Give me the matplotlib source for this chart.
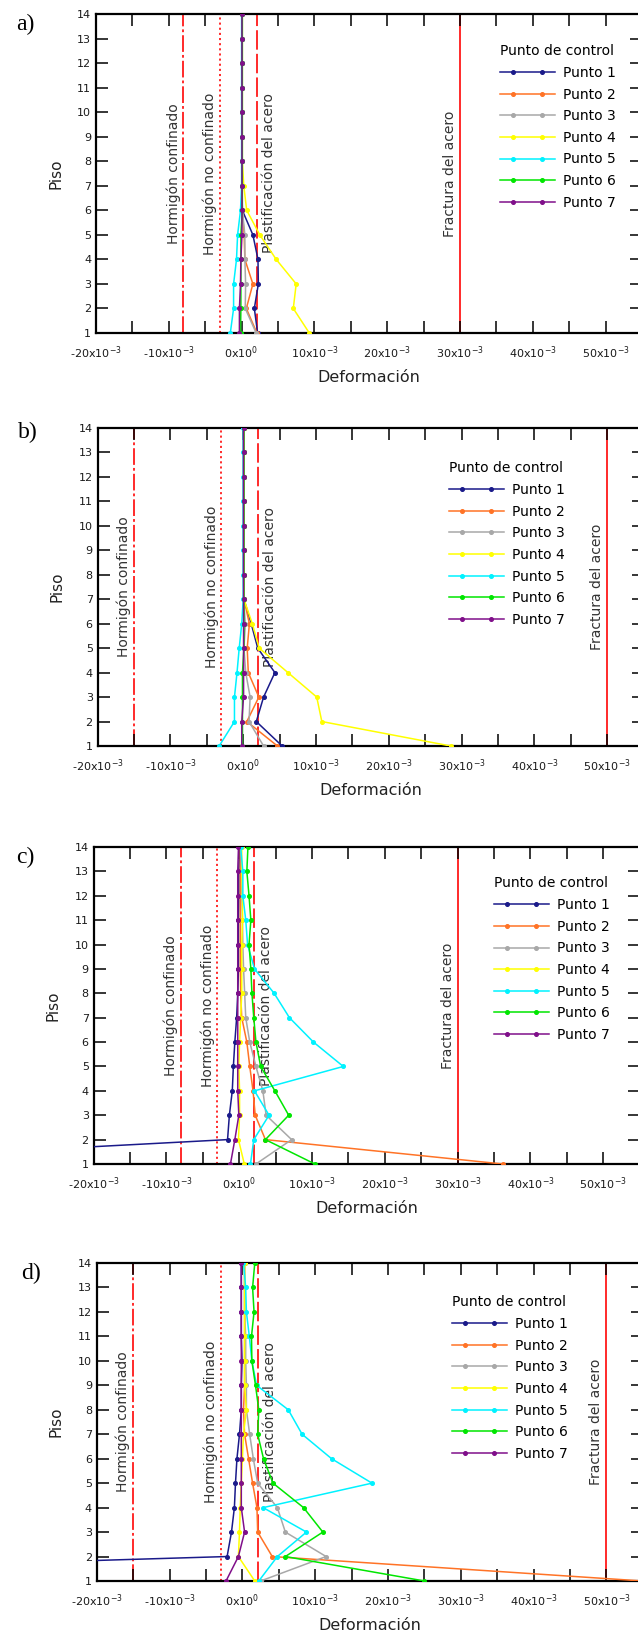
import matplotlib
matplotlib.use('Agg')
import matplotlib.pyplot as plt
from matplotlib.ticker import MultipleLocator, FuncFormatter
from matplotlib.legend_handler import HandlerBase
from matplotlib.lines import Line2D

plt.rcParams['lines.scale_dashes'] = False

# Pisos (eje y)
pisos = [1, 2, 3, 4, 5, 6, 7, 8, 9, 10, 11, 12, 13, 14]

# Deformaciones en unidades de 10^-3, de piso 1 a piso 14
# caso a)
a_p1 = [2.2, 1.75, 2.3, 2.25, 1.55, 0.1, 0.05, 0.05, 0.05, 0.05, 0.05, 0.05, 0.05, 0.05]
a_p2 = [2.1, 0.65, 1.55, 0.45, 0.35, 0.1, 0.05, 0.05, 0.05, 0.05, 0.05, 0.05, 0.05, 0.05]
a_p3 = [2.0, 0.5, 0.55, 0.45, 0.45, 0.1, 0.05, 0.05, 0.05, 0.05, 0.05, 0.05, 0.05, 0.05]
a_p4 = [9.3, 7.1, 7.5, 4.75, 2.5, 0.7, 0.3, 0.1, 0.1, 0.1, 0.1, 0.1, 0.1, 0.1]
a_p5 = [-1.55, -1.1, -1.1, -0.7, -0.55, -0.15, 0.0, 0.0, 0.0, 0.0, 0.0, 0.0, 0.0, 0.0]
a_p6 = [-0.15, -0.1, -0.1, -0.1, -0.1, 0.1, 0.1, 0.1, 0.1, 0.1, 0.1, 0.1, 0.1, 0.1]
a_p7 = [-0.3, -0.3, -0.15, -0.1, 0.05, 0.05, 0.05, 0.05, 0.05, 0.05, 0.05, 0.05, 0.05, 0.05]

# caso b)
b_p1 = [5.35, 1.8, 2.8, 4.35, 2.0, 1.1, 0.1, 0.05, 0.05, 0.05, 0.05, 0.05, 0.05, 0.05]
b_p2 = [4.7, 0.5, 2.15, 0.7, 0.55, 0.85, 0.1, 0.05, 0.05, 0.05, 0.05, 0.05, 0.05, 0.05]
b_p3 = [2.8, 0.8, 0.95, 0.35, 0.1, 0.3, 0.05, 0.05, 0.05, 0.05, 0.05, 0.05, 0.05, 0.05]
b_p4 = [28.5, 10.8, 10.1, 6.15, 2.2, 1.25, 0.1, 0.1, 0.1, 0.1, 0.1, 0.1, 0.1, 0.1]
b_p5 = [-3.3, -1.2, -1.2, -0.85, -0.55, -0.2, 0.0, 0.0, 0.0, 0.0, 0.0, 0.0, 0.0, 0.0]
b_p6 = [-0.1, -0.1, -0.1, -0.1, 0.1, 0.1, 0.1, 0.1, 0.1, 0.1, 0.1, 0.1, 0.1, 0.1]
b_p7 = [-0.2, -0.2, 0.05, 0.05, 0.05, 0.05, 0.05, 0.05, 0.05, 0.05, 0.05, 0.05, 0.05, 0.05]

# caso c)
c_p1 = [-65.0, -1.6, -1.35, -0.95, -0.8, -0.6, -0.35, -0.2, -0.1, -0.1, -0.1, -0.05, -0.05, 0.05]
c_p2 = [36.2, 3.6, 2.2, 1.9, 1.45, 1.05, 0.35, 0.2, 0.15, 0.15, 0.15, 0.15, 0.15, 0.15]
c_p3 = [2.3, 7.2, 3.7, 3.25, 2.3, 1.45, 0.9, 0.75, 0.6, 0.5, 0.45, 0.35, 0.35, 0.2]
c_p4 = [0.7, -0.1, 0.05, 0.05, -0.05, 0.05, 0.2, 0.35, 0.35, 0.35, 0.45, 0.45, 0.35, 0.35]
c_p5 = [1.55, 2.0, 4.1, 2.1, 14.3, 10.2, 6.9, 4.8, 2.1, 1.15, 0.9, 0.5, 0.5, 0.2]
c_p6 = [10.4, 3.6, 6.8, 4.9, 2.95, 2.3, 2.0, 1.75, 1.6, 1.35, 1.6, 1.35, 1.05, 1.2]
c_p7 = [-1.2, -0.6, -0.05, -0.2, -0.2, -0.2, -0.2, -0.2, -0.2, -0.2, -0.2, -0.2, -0.2, -0.1]

# caso d)
d_p1 = [-114.0, -2.1, -1.5, -1.1, -0.95, -0.75, -0.4, -0.15, -0.15, -0.05, -0.15, -0.15, -0.15, -0.15]
d_p2 = [55.0, 4.1, 2.1, 2.0, 1.4, 0.85, 0.3, 0.15, 0.3, 0.3, 0.3, 0.3, 0.3, 0.3]
d_p3 = [2.5, 11.5, 5.9, 4.8, 2.1, 1.5, 1.0, 0.55, 0.55, 0.45, 0.45, 0.3, 0.3, 0.3]
d_p4 = [1.7, -0.55, -0.4, -0.3, -0.15, 0.0, 0.15, 0.55, 0.3, 0.3, 0.3, 0.3, 0.3, 0.3]
d_p5 = [2.25, 4.8, 8.8, 2.85, 17.8, 12.25, 8.2, 6.3, 1.95, 1.3, 0.95, 0.55, 0.45, 0.15]
d_p6 = [25.0, 5.9, 11.05, 8.4, 4.2, 2.9, 2.1, 2.25, 1.8, 1.3, 1.25, 1.6, 1.4, 1.7]
d_p7 = [-2.25, -0.55, 0.3, -0.15, -0.15, -0.15, -0.15, -0.15, -0.15, -0.15, -0.15, -0.15, -0.15, -0.15]

# Limites (10^-3): hormigon confinado, no confinado, plastificacion, fractura
limites_ac = [-8.0, -3.0, 2.1, 30.0]
limites_bd = [-15.0, -3.0, 2.1, 50.0]

puntos = ['Punto 1', 'Punto 2', 'Punto 3', 'Punto 4', 'Punto 5', 'Punto 6', 'Punto 7']
colores = ['#1a1a8a', '#ff7326', '#a8a8a8', '#ffff00', '#00f2ff', '#00e600', '#800f8a']
textos_limite = ['Hormigón confinado', 'Hormigón no confinado', 'Plastificación del acero', 'Fractura del acero']

casos = [
    ('a)', [a_p1, a_p2, a_p3, a_p4, a_p5, a_p6, a_p7], limites_ac),
    ('b)', [b_p1, b_p2, b_p3, b_p4, b_p5, b_p6, b_p7], limites_bd),
    ('c)', [c_p1, c_p2, c_p3, c_p4, c_p5, c_p6, c_p7], limites_ac),
    ('d)', [d_p1, d_p2, d_p3, d_p4, d_p5, d_p6, d_p7], limites_bd),
]

# posicion de cada grafico en pixeles: izquierda, arriba, abajo, x leyenda, y leyenda
W, H = 638, 1635
marcos = [(96, 14, 333, 0.740, 0.905), (97.6, 428, 746, 0.644, 0.895),
          (93.6, 847, 1164, 0.733, 0.907), (96.8, 1263, 1581, 0.651, 0.898)]
letras_pos = [(25, 24), (28, 432), (25, 857), (31, 1273)]

rojo = '#ff2a2a'
estilos = [dict(dashes=(12, 2.2, 2, 2.2)), dict(dashes=(1.5, 2.2)), dict(dashes=(14, 3)), dict(linestyle='-')]
desplaz = [-7.2, -7.2, 8.6, -7.2]


def formato(v, pos):
    if abs(v) < 1e-9:
        return '0x10$^{0}$'
    return '%dx10$^{-3}$' % v


class HandlerPunto(HandlerBase):
    # linea completa con dos marcadores hacia dentro, como en la leyenda original
    def create_artists(self, legend, orig_handle, xdescent, ydescent, width, height, fontsize, trans):
        y = (height - ydescent) / 2
        x0, x1 = -xdescent, -xdescent + width
        pad = 0.94 * fontsize
        col = orig_handle.get_color()
        linea = Line2D([x0, x1], [y, y], color=col, lw=orig_handle.get_linewidth())
        marcas = Line2D([x0 + pad, x1 - pad], [y, y], ls='none', marker='o',
                        markersize=orig_handle.get_markersize(), color=col)
        linea.set_transform(trans)
        marcas.set_transform(trans)
        return [linea, marcas]


fig = plt.figure(figsize=(W / 100, H / 100), dpi=100)

for (letra, series, limites), (izq, arriba, abajo, lx, ly), (tx, ty) in zip(casos, marcos, letras_pos):
    ax = fig.add_axes([izq / W, (H - abajo) / H, 546 / W, (abajo - arriba) / H])

    for xv, est, txt, dx in zip(limites, estilos, textos_limite, desplaz):
        ax.axvline(xv, color=rojo, lw=1.4, zorder=1, **est)
        ax.annotate(txt, xy=(xv, 7.5), xytext=(dx, 0), textcoords='offset points',
                    rotation=90, ha='center', va='center', fontsize=10, color='#333333')

    for vals, col, nombre in zip(series, colores, puntos):
        ax.plot(vals, pisos, color=col, lw=1.1, marker='o', markersize=2.6, label=nombre, zorder=3)

    ax.set_xlim(-20, 55)
    ax.set_ylim(1, 14)
    ax.xaxis.set_major_locator(MultipleLocator(10))
    ax.xaxis.set_minor_locator(MultipleLocator(5))
    ax.xaxis.set_major_formatter(FuncFormatter(formato))
    ax.yaxis.set_major_locator(MultipleLocator(1))
    ax.tick_params(which='both', direction='in', length=8.6, width=1.1, top=True, right=True,
                   labelsize=8, labelcolor='#1a1a1a')
    ax.tick_params(axis='x', pad=8)
    ax.tick_params(axis='y', pad=3.5)
    for sp in ax.spines.values():
        sp.set_linewidth(1.6)

    ax.set_xlabel('Deformación', fontsize=11.5, color='#222222', labelpad=7)
    ax.set_ylabel('Piso', fontsize=11, color='#222222', labelpad=10)

    ax.legend(title='Punto de control', loc='upper left', bbox_to_anchor=(lx, ly),
              frameon=False, fontsize=10, title_fontsize=10, alignment='left',
              borderpad=0, borderaxespad=0, labelspacing=0.55, handlelength=3.96,
              handletextpad=0.58, handler_map={Line2D: HandlerPunto()})

    fig.text(tx / W, 1 - ty / H, letra, fontsize=17, family='Liberation Serif',
             ha='center', va='center')

fig.savefig('out.png', dpi=100)
